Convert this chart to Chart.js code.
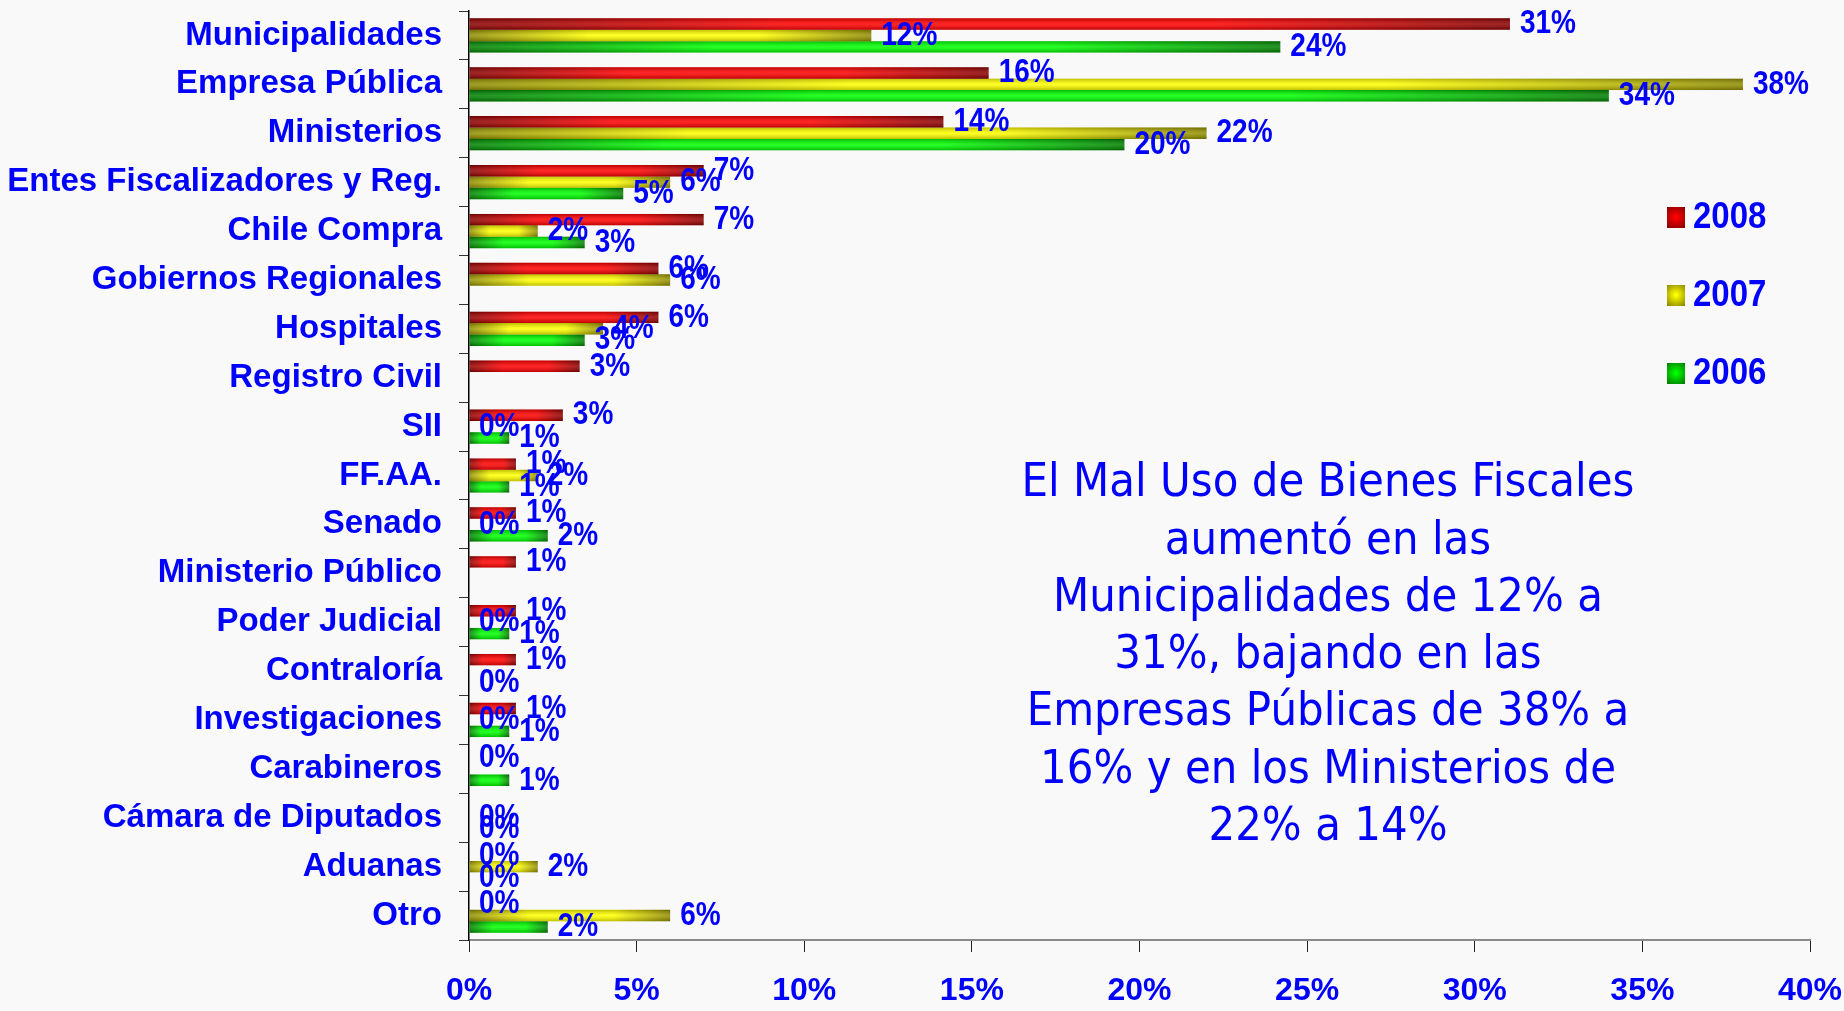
<!DOCTYPE html>
<html>
<head>
<meta charset="utf-8">
<script src="https://cdn.jsdelivr.net/npm/chart.js@4.4.1/dist/chart.umd.min.js"></script>
<style>
  body { margin: 0; background: #f9f9f9; }
  #wrap { width: 1844px; height: 1011px; position: relative; }
</style>
</head>
<body>
<div id="wrap"><canvas id="chartMalUso"></canvas></div>
<script>
const categorias = ['Municipalidades', 'Empresa Pública', 'Ministerios', 'Entes Fiscalizadores y Reg.',
  'Chile Compra', 'Gobiernos Regionales', 'Hospitales', 'Registro Civil', 'SII', 'FF.AA.', 'Senado',
  'Ministerio Público', 'Poder Judicial', 'Contraloría', 'Investigaciones', 'Carabineros',
  'Cámara de Diputados', 'Aduanas', 'Otro'];
const anios = ['2008', '2007', '2006'];
const datos2008 = [31.05, 15.5, 14.15, 7.0, 7.0, 5.65, 5.65, 3.3, 2.8, 1.4, 1.4, 1.4, 1.4, 1.4, 1.4, 0, null, 0, 0];
const datos2007 = [12.0, 38.0, 22.0, 6.0, 2.05, 6.0, 4.0, null, 0, 2.05, 0, null, 0, null, 0, null, 0, 2.05, 6.0];
const datos2006 = [24.2, 34.0, 19.55, 4.6, 3.45, null, 3.45, null, 1.2, 1.2, 2.35, null, 1.2, 0, 1.2, 1.2, 0, 0, 2.35];
const ticksX = [0, 5, 10, 15, 20, 25, 30, 35, 40];
const nota = ['El Mal Uso de Bienes Fiscales', 'aumentó en las', 'Municipalidades de 12% a',
  '31%, bajando en las', 'Empresas Públicas de 38% a', '16% y en los Ministerios de', '22% a 14%'];

const azul = '#0000ff';
const colores = [
  { dark: '#8a0000', bright: '#ff0000' },
  { dark: '#908c00', bright: '#ffff00' },
  { dark: '#007f00', bright: '#00ff00' }
];

// horizontal gradient along each bar, dark at both ends
function relleno(col) {
  return function (c) {
    const chart = c.chart;
    if (!chart.chartArea || c.type !== 'data' || c.raw === null) return col.bright;
    const xs = chart.scales.x;
    const x0 = xs.getPixelForValue(0);
    const x1 = xs.getPixelForValue(c.raw);
    if (x1 - x0 < 2) return col.bright;
    const g = chart.ctx.createLinearGradient(x0, 0, x1, 0);
    g.addColorStop(0, col.dark);
    g.addColorStop(0.3, col.bright);
    g.addColorStop(0.72, col.bright);
    g.addColorStop(1, col.dark);
    return g;
  };
}

// cylinder shading on top of the library bars
const sombreado = {
  id: 'sombreado',
  afterDatasetsDraw(chart) {
    const c = chart.ctx;
    c.save();
    chart.data.datasets.forEach((ds, i) => {
      chart.getDatasetMeta(i).data.forEach((bar, j) => {
        if (ds.data[j] === null || !(bar.x - bar.base > 0.5)) return;
        const top = bar.y - bar.height / 2;
        const g = c.createLinearGradient(0, top, 0, top + bar.height);
        g.addColorStop(0, 'rgba(0,0,0,0.25)');
        g.addColorStop(0.5, 'rgba(255,255,255,0.15)');
        g.addColorStop(1, 'rgba(0,0,0,0.25)');
        c.fillStyle = g;
        c.fillRect(bar.base, top, bar.x - bar.base, bar.height);
      });
    });
    c.restore();
  }
};

// value labels, slightly stretched vertically like the original
const etiquetas = {
  id: 'etiquetas',
  afterDatasetsDraw(chart) {
    const c = chart.ctx;
    c.save();
    c.font = 'bold 28px "Liberation Sans", Arial, sans-serif';
    c.fillStyle = azul;
    c.textAlign = 'left';
    c.textBaseline = 'middle';
    chart.data.datasets.forEach((ds, i) => {
      chart.getDatasetMeta(i).data.forEach((bar, j) => {
        const v = ds.data[j];
        if (v === null) return;
        c.save();
        c.translate(bar.x + 10, bar.y);
        c.scale(1, 1.2);
        c.fillText(Math.round(v) + '%', 0, 0);
        c.restore();
      });
    });
    c.restore();
  }
};

const leyenda = {
  id: 'leyenda',
  afterDraw(chart) {
    const c = chart.ctx;
    c.save();
    c.font = 'bold 33px "Liberation Sans", Arial, sans-serif';
    c.textAlign = 'left';
    c.textBaseline = 'middle';
    chart.data.datasets.forEach((ds, i) => {
      const y = 217 + i * 78;
      const g = c.createRadialGradient(1676, y, 1, 1676, y, 13);
      g.addColorStop(0, colores[i].bright);
      g.addColorStop(1, colores[i].dark);
      c.fillStyle = g;
      c.fillRect(1667, y - 10, 18, 21);
      c.fillStyle = azul;
      c.save();
      c.translate(1693, y + 1);
      c.scale(1, 1.1);
      c.fillText(ds.label, 0, 0);
      c.restore();
    });
    c.restore();
  }
};

const textoNota = {
  id: 'textoNota',
  afterDraw(chart) {
    const c = chart.ctx;
    c.save();
    c.font = '42px "DejaVu Sans", Tahoma, sans-serif';
    c.fillStyle = azul;
    c.textAlign = 'center';
    c.textBaseline = 'middle';
    nota.forEach((linea, k) => {
      c.save();
      c.translate(1328, 484 + k * 57.3);
      c.scale(1, 1.12);
      c.fillText(linea, 0, 0);
      c.restore();
    });
    c.restore();
  }
};

const fuenteY = { family: '"Liberation Sans", Arial, sans-serif', size: 33, weight: 'bold' };
const fuenteX = { family: '"Liberation Sans", Arial, sans-serif', size: 32, weight: 'bold' };

const ctx = document.getElementById('chartMalUso').getContext('2d');
const grafico = new Chart(ctx, {
  type: 'bar',
  data: {
    labels: categorias,
    datasets: [datos2008, datos2007, datos2006].map((serie, i) => ({
      label: anios[i],
      data: serie,
      backgroundColor: relleno(colores[i]),
      borderWidth: 0,
      categoryPercentage: 0.7,
      barPercentage: 1.0
    }))
  },
  options: {
    indexAxis: 'y',
    responsive: true,
    maintainAspectRatio: false,
    animation: false,
    layout: { padding: { top: 11, right: 34, left: 0, bottom: 0 } },
    plugins: {
      legend: { display: false },
      tooltip: { enabled: false }
    },
    scales: {
      x: {
        min: 0,
        max: 40,
        afterBuildTicks(scale) { scale.ticks = ticksX.map(v => ({ value: v })); },
        afterFit(scale) {
          scale.height = 71;
          scale.paddingLeft = 0;
          scale.paddingRight = 0;
        },
        ticks: {
          color: azul,
          font: fuenteX,
          padding: 20,
          maxRotation: 0,
          callback: v => v + '%'
        },
        grid: { drawOnChartArea: false, tickLength: 12, color: '#222' },
        border: { color: '#8a8a8a', width: 2 }
      },
      y: {
        afterFit(scale) {
          scale.width = 469;
          scale.paddingTop = 0;
          scale.paddingBottom = 0;
        },
        ticks: { color: azul, font: fuenteY, padding: 17, autoSkip: false },
        grid: { drawOnChartArea: false, tickLength: 10, color: '#333', offset: true },
        border: { color: '#000', width: 1.5 }
      }
    }
  },
  plugins: [sombreado, etiquetas, leyenda, textoNota]
});
</script>
</body>
</html>
